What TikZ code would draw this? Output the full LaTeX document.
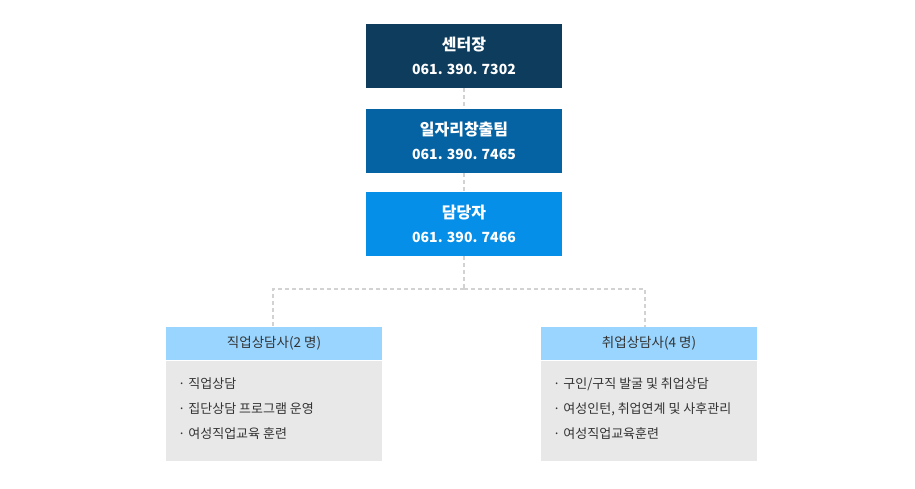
\documentclass[tikz,border=0pt]{standalone}
\usepackage{fontspec}
\setmainfont{Noto Sans CJK KR}
\usetikzlibrary{positioning}
\definecolor{navy}{HTML}{0E3C5C}
\definecolor{teamblue}{HTML}{0563A3}
\definecolor{staffblue}{HTML}{068FE9}
\definecolor{headblue}{HTML}{99D5FE}
\definecolor{bodygray}{HTML}{E8E8E8}
\definecolor{linkgray}{HTML}{D2D2D2}
\definecolor{itemgray}{HTML}{333333}

\begin{document}
\begin{tikzpicture}[x=1pt, y=-1pt,
    post/.style={rectangle, minimum width=196pt, minimum height=64pt, inner sep=0pt, align=center, text=white, font=\fontsize{16}{24}\selectfont\bfseries},
    head/.style={rectangle, fill=headblue, minimum width=216pt, minimum height=33pt, inner sep=0pt, text=itemgray, font=\fontsize{13.5}{16}\selectfont},
    body/.style={rectangle, fill=bodygray, minimum width=216pt, minimum height=100pt, inner sep=0pt},
    item/.style={anchor=base west, inner sep=0pt, text=itemgray, font=\fontsize{13}{16}\selectfont},
    link/.style={draw=linkgray, dash pattern=on 4pt off 3pt, line width=1.3pt}
]
    \useasboundingbox (0,0) rectangle (915,488);

    % 센터장
    \node[post, fill=navy] (chief) at (464,56) {센터장\\{\fontsize{14}{24}\selectfont 061. 390. 7302}};

    % 일자리창출팀
    \node[post, fill=teamblue] (team) at (464,141) {일자리창출팀\\{\fontsize{14}{24}\selectfont 061. 390. 7465}};

    % 담당자
    \node[post, fill=staffblue] (staff) at (464,224) {담당자\\{\fontsize{14}{24}\selectfont 061. 390. 7466}};

    % 직업상담사
    \node[head] (jobhead) at (274,343.5) {직업상담사(2 명)};
    \node[body] (jobbody) at (274,411) {};
    \foreach \t [count=\i] in {직업상담, 집단상담 프로그램 운영, 여성직업교육 훈련}
        \node[item] (jobitem\i) at (178,{388+25*(\i-1)}) {· \t};

    % 취업상담사
    \node[head] (emphead) at (649,343.5) {취업상담사(4 명)};
    \node[body] (empbody) at (649,411) {};
    \foreach \t [count=\i] in {구인/구직 발굴 및 취업상담, {여성인턴, 취업연계 및 사후관리}, 여성직업교육훈련}
        \node[item] (empitem\i) at (553,{388+25*(\i-1)}) {· \t};

    % 연결선
    \coordinate (fork) at (464,289);
    \draw[link] (chief.south) -- (team.north);
    \draw[link] (team.south) -- (staff.north);
    \draw[link] (staff.south) -- (fork);
    \draw[link] (fork) -| ([xshift=-1pt]jobhead.north);
    \draw[link] (fork) -| ([xshift=-4pt]emphead.north);
\end{tikzpicture}
\end{document}
